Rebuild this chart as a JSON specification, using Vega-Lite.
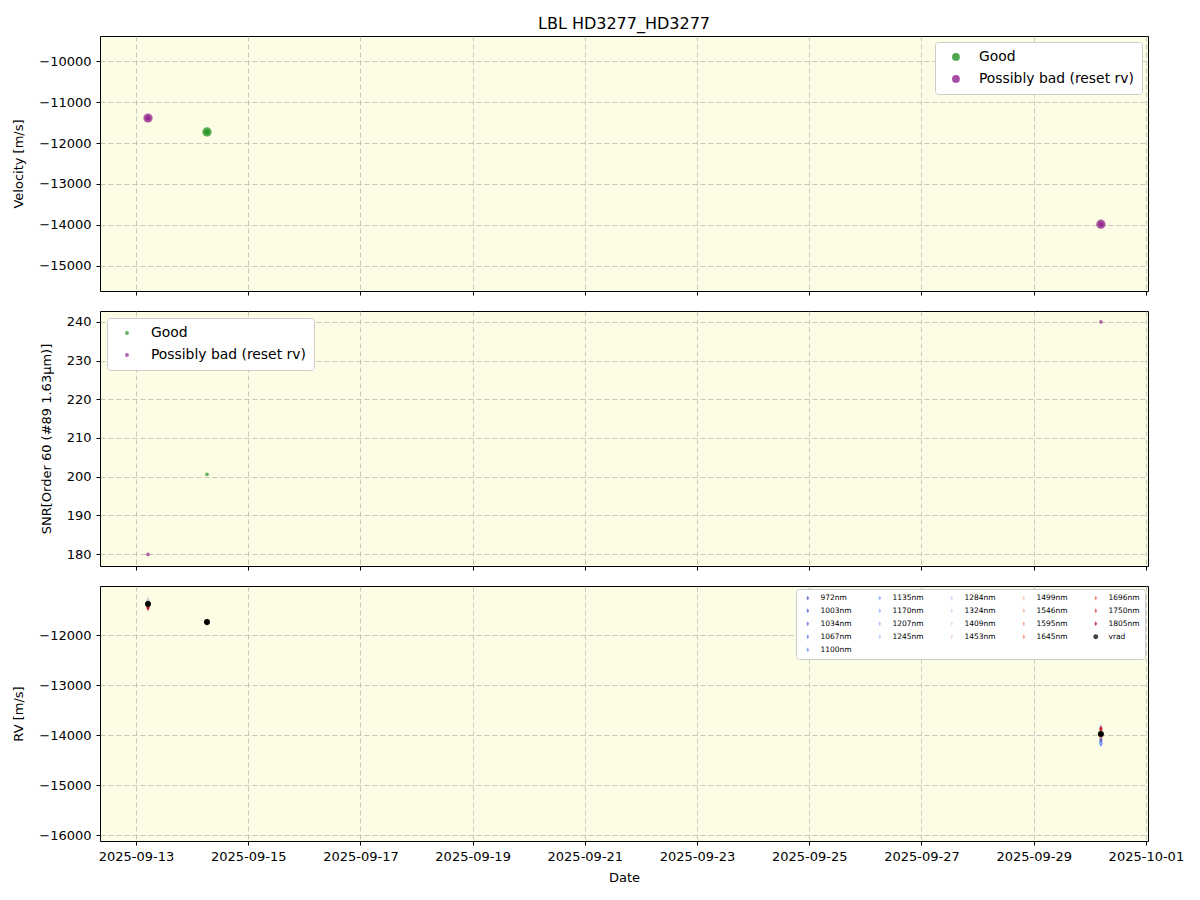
{
  "$schema": "https://vega.github.io/schema/vega-lite/v6.json",
  "padding": {"left": 12, "top": 15, "right": 50, "bottom": 10},
  "background": "white",
  "config": {
    "font": "DejaVu Sans",
    "view": {"stroke": "black", "strokeWidth": 1, "fill": "#fdfce4"},
    "axis": {"labelFontSize": 13, "titleFontSize": 13, "titleFontWeight": "normal", "labelColor": "black", "titleColor": "black", "tickColor": "black", "domain": false, "grid": true, "gridColor": "#b0b0b0", "gridOpacity": 0.7, "gridDash": [5, 3], "tickSize": 4, "labelPadding": 5},
    "axisY": {"titlePadding": 13},
    "axisX": {"titlePadding": 8},
    "legend": {"labelFont": "DejaVu Sans", "labelColor": "black", "fillColor": "white", "strokeColor": "#cccccc", "cornerRadius": 3, "title": null}
  },
  "datasets": {
    "vel": [
      {"date": "2025-09-13T05:08:00Z", "vel": -11390, "status": "Possibly bad (reset rv)"},
      {"date": "2025-09-14T06:22:00Z", "vel": -11730, "status": "Good"},
      {"date": "2025-09-30T04:45:00Z", "vel": -13980, "status": "Possibly bad (reset rv)"}
    ],
    "snr": [
      {"date": "2025-09-13T05:08:00Z", "snr": 179.9, "status": "Possibly bad (reset rv)"},
      {"date": "2025-09-14T06:22:00Z", "snr": 200.6, "status": "Good"},
      {"date": "2025-09-30T04:45:00Z", "snr": 240.0, "status": "Possibly bad (reset rv)"}
    ],
    "rv": [
      {"date": "2025-09-13T05:08:00Z", "band": "972nm", "rv": -11360},
      {"date": "2025-09-13T05:08:00Z", "band": "1003nm", "rv": -11370},
      {"date": "2025-09-13T05:08:00Z", "band": "1034nm", "rv": -11350},
      {"date": "2025-09-13T05:08:00Z", "band": "1067nm", "rv": -11340},
      {"date": "2025-09-13T05:08:00Z", "band": "1100nm", "rv": -11360},
      {"date": "2025-09-13T05:08:00Z", "band": "1135nm", "rv": -11330},
      {"date": "2025-09-13T05:08:00Z", "band": "1170nm", "rv": -11350},
      {"date": "2025-09-13T05:08:00Z", "band": "1207nm", "rv": -11320},
      {"date": "2025-09-13T05:08:00Z", "band": "1245nm", "rv": -11330},
      {"date": "2025-09-13T05:08:00Z", "band": "1284nm", "rv": -11300},
      {"date": "2025-09-13T05:08:00Z", "band": "1324nm", "rv": -11310},
      {"date": "2025-09-13T05:08:00Z", "band": "1409nm", "rv": -11290},
      {"date": "2025-09-13T05:08:00Z", "band": "1453nm", "rv": -11320},
      {"date": "2025-09-13T05:08:00Z", "band": "1499nm", "rv": -11380},
      {"date": "2025-09-13T05:08:00Z", "band": "1546nm", "rv": -11400},
      {"date": "2025-09-13T05:08:00Z", "band": "1595nm", "rv": -11420},
      {"date": "2025-09-13T05:08:00Z", "band": "1645nm", "rv": -11410},
      {"date": "2025-09-13T05:08:00Z", "band": "1696nm", "rv": -11440},
      {"date": "2025-09-13T05:08:00Z", "band": "1750nm", "rv": -11450},
      {"date": "2025-09-13T05:08:00Z", "band": "1805nm", "rv": -11460},
      {"date": "2025-09-13T05:08:00Z", "band": "vrad", "rv": -11380},
      {"date": "2025-09-14T06:22:00Z", "band": "972nm", "rv": -11750},
      {"date": "2025-09-14T06:22:00Z", "band": "1003nm", "rv": -11745},
      {"date": "2025-09-14T06:22:00Z", "band": "1034nm", "rv": -11740},
      {"date": "2025-09-14T06:22:00Z", "band": "1067nm", "rv": -11750},
      {"date": "2025-09-14T06:22:00Z", "band": "1100nm", "rv": -11745},
      {"date": "2025-09-14T06:22:00Z", "band": "1135nm", "rv": -11740},
      {"date": "2025-09-14T06:22:00Z", "band": "1170nm", "rv": -11735},
      {"date": "2025-09-14T06:22:00Z", "band": "1207nm", "rv": -11740},
      {"date": "2025-09-14T06:22:00Z", "band": "1245nm", "rv": -11735},
      {"date": "2025-09-14T06:22:00Z", "band": "1284nm", "rv": -11730},
      {"date": "2025-09-14T06:22:00Z", "band": "1324nm", "rv": -11735},
      {"date": "2025-09-14T06:22:00Z", "band": "1409nm", "rv": -11730},
      {"date": "2025-09-14T06:22:00Z", "band": "1453nm", "rv": -11740},
      {"date": "2025-09-14T06:22:00Z", "band": "1499nm", "rv": -11745},
      {"date": "2025-09-14T06:22:00Z", "band": "1546nm", "rv": -11740},
      {"date": "2025-09-14T06:22:00Z", "band": "1595nm", "rv": -11750},
      {"date": "2025-09-14T06:22:00Z", "band": "1645nm", "rv": -11745},
      {"date": "2025-09-14T06:22:00Z", "band": "1696nm", "rv": -11740},
      {"date": "2025-09-14T06:22:00Z", "band": "1750nm", "rv": -11745},
      {"date": "2025-09-14T06:22:00Z", "band": "1805nm", "rv": -11750},
      {"date": "2025-09-14T06:22:00Z", "band": "vrad", "rv": -11740},
      {"date": "2025-09-30T04:45:00Z", "band": "972nm", "rv": -14100},
      {"date": "2025-09-30T04:45:00Z", "band": "1003nm", "rv": -14120},
      {"date": "2025-09-30T04:45:00Z", "band": "1034nm", "rv": -14150},
      {"date": "2025-09-30T04:45:00Z", "band": "1067nm", "rv": -14170},
      {"date": "2025-09-30T04:45:00Z", "band": "1100nm", "rv": -14180},
      {"date": "2025-09-30T04:45:00Z", "band": "1135nm", "rv": -14160},
      {"date": "2025-09-30T04:45:00Z", "band": "1170nm", "rv": -14140},
      {"date": "2025-09-30T04:45:00Z", "band": "1207nm", "rv": -14130},
      {"date": "2025-09-30T04:45:00Z", "band": "1245nm", "rv": -14100},
      {"date": "2025-09-30T04:45:00Z", "band": "1284nm", "rv": -13850},
      {"date": "2025-09-30T04:45:00Z", "band": "1324nm", "rv": -13830},
      {"date": "2025-09-30T04:45:00Z", "band": "1409nm", "rv": -13900},
      {"date": "2025-09-30T04:45:00Z", "band": "1453nm", "rv": -13950},
      {"date": "2025-09-30T04:45:00Z", "band": "1499nm", "rv": -14000},
      {"date": "2025-09-30T04:45:00Z", "band": "1546nm", "rv": -14030},
      {"date": "2025-09-30T04:45:00Z", "band": "1595nm", "rv": -14050},
      {"date": "2025-09-30T04:45:00Z", "band": "1645nm", "rv": -14060},
      {"date": "2025-09-30T04:45:00Z", "band": "1696nm", "rv": -13900},
      {"date": "2025-09-30T04:45:00Z", "band": "1750nm", "rv": -13880},
      {"date": "2025-09-30T04:45:00Z", "band": "1805nm", "rv": -13870},
      {"date": "2025-09-30T04:45:00Z", "band": "vrad", "rv": -13980}
    ]
  },
  "spacing": 20,
  "bounds": "flush",
  "resolve": {"scale": {"color": "independent", "shape": "independent", "y": "independent"}, "legend": {"color": "independent", "shape": "independent"}},
  "vconcat": [
    {
      "width": 1048, "height": 255,
      "title": {"text": "LBL HD3277_HD3277", "fontSize": 16, "font": "DejaVu Sans", "fontWeight": "normal", "color": "black", "anchor": "middle", "frame": "group", "offset": 4},
      "data": {"name": "vel"},
      "encoding": {
        "x": {"field": "date", "type": "temporal",
          "scale": {"type": "utc", "domain": [{"year": 2025, "month": 9, "date": 12, "hours": 8, "minutes": 36, "utc": true}, {"year": 2025, "month": 10, "date": 1, "hours": 0, "minutes": 54, "utc": true}]},
          "axis": {"title": null, "labels": false,
            "values": [{"year": 2025, "month": 9, "date": 13, "utc": true}, {"year": 2025, "month": 9, "date": 15, "utc": true}, {"year": 2025, "month": 9, "date": 17, "utc": true}, {"year": 2025, "month": 9, "date": 19, "utc": true}, {"year": 2025, "month": 9, "date": 21, "utc": true}, {"year": 2025, "month": 9, "date": 23, "utc": true}, {"year": 2025, "month": 9, "date": 25, "utc": true}, {"year": 2025, "month": 9, "date": 27, "utc": true}, {"year": 2025, "month": 9, "date": 29, "utc": true}, {"year": 2025, "month": 10, "date": 1, "utc": true}]}},
        "y": {"field": "vel", "type": "quantitative", "scale": {"domain": [-15610, -9390], "nice": false, "zero": false},
          "axis": {"title": "Velocity [m/s]", "values": [-15000, -14000, -13000, -12000, -11000, -10000], "format": "d"}},
        "color": {"field": "status", "type": "nominal", "scale": {"domain": ["Good", "Possibly bad (reset rv)"], "range": ["green", "purple"]},
          "legend": {"orient": "top-right", "offset": 6, "labelFontSize": 13.9, "symbolType": "circle", "symbolSize": 60, "symbolOpacity": 0.7, "padding": 8, "rowPadding": 7, "symbolOffset": 6, "labelOffset": 16, "symbolStrokeWidth": 0}}
      },
      "layer": [
        {"mark": {"type": "point", "filled": true, "size": 85, "opacity": 0.65}},
        {"mark": {"type": "point", "filled": true, "size": 26, "opacity": 0.5}}
      ]
    },
    {
      "width": 1048, "height": 255,
      "data": {"name": "snr"},
      "mark": {"type": "point", "filled": true, "size": 14, "opacity": 0.6},
      "encoding": {
        "x": {"field": "date", "type": "temporal",
          "scale": {"type": "utc", "domain": [{"year": 2025, "month": 9, "date": 12, "hours": 8, "minutes": 36, "utc": true}, {"year": 2025, "month": 10, "date": 1, "hours": 0, "minutes": 54, "utc": true}]},
          "axis": {"title": null, "labels": false,
            "values": [{"year": 2025, "month": 9, "date": 13, "utc": true}, {"year": 2025, "month": 9, "date": 15, "utc": true}, {"year": 2025, "month": 9, "date": 17, "utc": true}, {"year": 2025, "month": 9, "date": 19, "utc": true}, {"year": 2025, "month": 9, "date": 21, "utc": true}, {"year": 2025, "month": 9, "date": 23, "utc": true}, {"year": 2025, "month": 9, "date": 25, "utc": true}, {"year": 2025, "month": 9, "date": 27, "utc": true}, {"year": 2025, "month": 9, "date": 29, "utc": true}, {"year": 2025, "month": 10, "date": 1, "utc": true}]}},
        "y": {"field": "snr", "type": "quantitative", "scale": {"domain": [176.9, 242.8], "nice": false, "zero": false},
          "axis": {"title": "SNR[Order 60 (#89 1.63μm)]", "values": [180, 190, 200, 210, 220, 230, 240]}},
        "color": {"field": "status", "type": "nominal", "scale": {"domain": ["Good", "Possibly bad (reset rv)"], "range": ["green", "purple"]},
          "legend": {"orient": "top-left", "offset": 7, "labelFontSize": 13.9, "symbolType": "circle", "symbolSize": 16, "symbolOpacity": 0.6, "padding": 8, "rowPadding": 7, "symbolOffset": 5, "labelOffset": 17, "symbolStrokeWidth": 0}}
      }
    },
    {
      "width": 1048, "height": 255,
      "data": {"name": "rv"},
      "mark": {"type": "point", "filled": true},
      "encoding": {
        "x": {"field": "date", "type": "temporal",
          "scale": {"type": "utc", "domain": [{"year": 2025, "month": 9, "date": 12, "hours": 8, "minutes": 36, "utc": true}, {"year": 2025, "month": 10, "date": 1, "hours": 0, "minutes": 54, "utc": true}]},
          "axis": {"title": "Date", "labelExpr": "utcFormat(datum.value, '%Y-%m-%d')",
            "values": [{"year": 2025, "month": 9, "date": 13, "utc": true}, {"year": 2025, "month": 9, "date": 15, "utc": true}, {"year": 2025, "month": 9, "date": 17, "utc": true}, {"year": 2025, "month": 9, "date": 19, "utc": true}, {"year": 2025, "month": 9, "date": 21, "utc": true}, {"year": 2025, "month": 9, "date": 23, "utc": true}, {"year": 2025, "month": 9, "date": 25, "utc": true}, {"year": 2025, "month": 9, "date": 27, "utc": true}, {"year": 2025, "month": 9, "date": 29, "utc": true}, {"year": 2025, "month": 10, "date": 1, "utc": true}]}},
        "y": {"field": "rv", "type": "quantitative", "scale": {"domain": [-16120, -11020], "nice": false, "zero": false},
          "axis": {"title": "RV [m/s]", "values": [-16000, -15000, -14000, -13000, -12000], "format": "d"}},
        "order": {"field": "band", "type": "nominal"},
        "size": {"condition": {"test": "datum.band === 'vrad'", "value": 36}, "value": 34},
        "opacity": {"condition": {"test": "datum.band === 'vrad'", "value": 1}, "value": 0.7},
        "color": {"field": "band", "type": "nominal",
          "scale": {"domain": ["972nm", "1003nm", "1750nm", "1595nm", "1453nm", "1135nm", "1170nm", "1034nm", "1805nm", "1645nm", "1284nm", "1324nm", "1207nm", "1067nm", "vrad", "1499nm", "1546nm", "1409nm", "1245nm", "1100nm", "1696nm"],
            "range": ["#3b4cc0", "#465dce", "#cc4039", "#f49b7c", "#eed0bf", "#7a9df8", "#89acfd", "#516ddb", "#b40426", "#ed8165", "#b8d0f9", "#c7d7f1", "#98b9ff", "#5e7de7", "#000000", "#f6c2a9", "#f7b194", "#e3d9d3", "#a8c5fe", "#6b8df0", "#df634f"]},
          "legend": {"orient": "top-right", "offset": 3, "columns": 5, "labelFontSize": 7.5, "symbolSize": 24, "symbolOpacity": 0.75, "padding": 5, "rowPadding": 4, "columnPadding": 21, "symbolOffset": 3, "labelOffset": 9, "gridAlign": "all", "symbolStrokeWidth": 0}},
        "shape": {"field": "band", "type": "nominal",
          "scale": {"domain": ["972nm", "1003nm", "1750nm", "1595nm", "1453nm", "1135nm", "1170nm", "1034nm", "1805nm", "1645nm", "1284nm", "1324nm", "1207nm", "1067nm", "vrad", "1499nm", "1546nm", "1409nm", "1245nm", "1100nm", "1696nm"],
            "range": ["M0,-1L0.55,0L0,1L-0.55,0Z", "M0,-1L0.55,0L0,1L-0.55,0Z", "M0,-1L0.55,0L0,1L-0.55,0Z", "M0,-1L0.55,0L0,1L-0.55,0Z", "M0,-1L0.55,0L0,1L-0.55,0Z", "M0,-1L0.55,0L0,1L-0.55,0Z", "M0,-1L0.55,0L0,1L-0.55,0Z", "M0,-1L0.55,0L0,1L-0.55,0Z", "M0,-1L0.55,0L0,1L-0.55,0Z", "M0,-1L0.55,0L0,1L-0.55,0Z", "M0,-1L0.55,0L0,1L-0.55,0Z", "M0,-1L0.55,0L0,1L-0.55,0Z", "M0,-1L0.55,0L0,1L-0.55,0Z", "M0,-1L0.55,0L0,1L-0.55,0Z", "circle", "M0,-1L0.55,0L0,1L-0.55,0Z", "M0,-1L0.55,0L0,1L-0.55,0Z", "M0,-1L0.55,0L0,1L-0.55,0Z", "M0,-1L0.55,0L0,1L-0.55,0Z", "M0,-1L0.55,0L0,1L-0.55,0Z", "M0,-1L0.55,0L0,1L-0.55,0Z"]},
          "legend": null}
      }
    }
  ]
}
